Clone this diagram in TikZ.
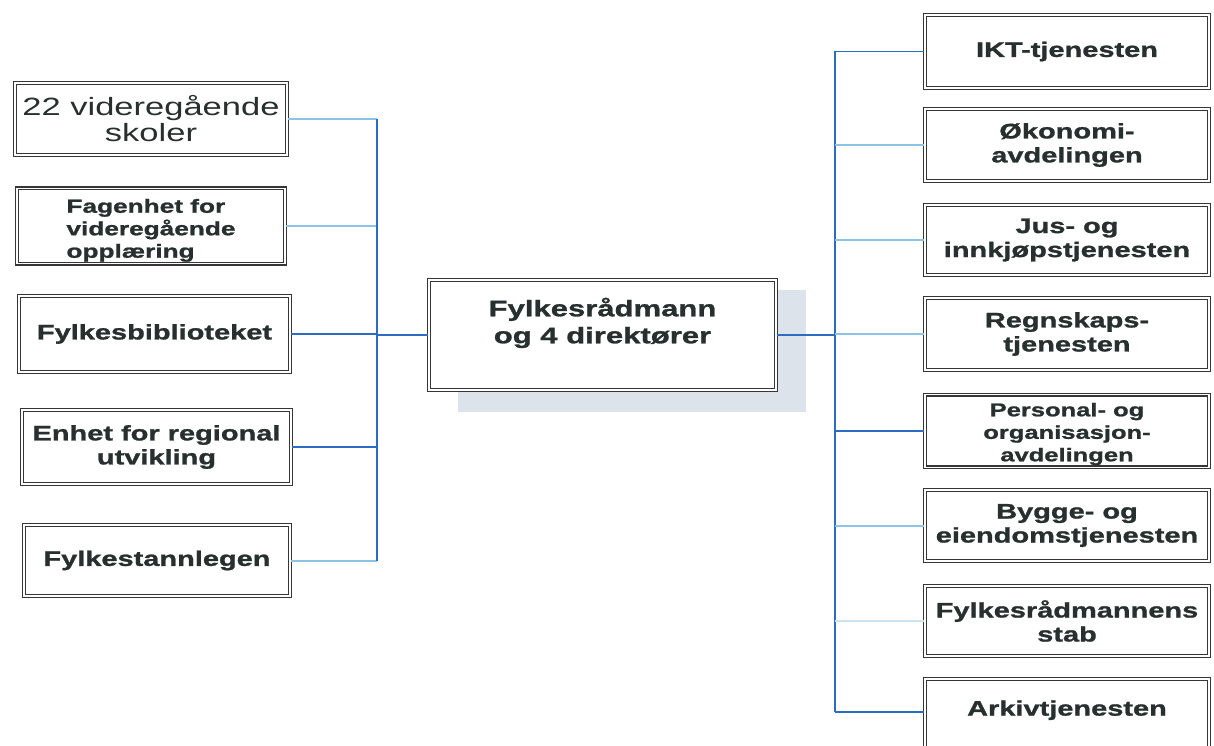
\documentclass[tikz,border=0pt]{standalone}
\usepackage{fontspec}
\setmainfont{Liberation Sans}[FakeStretch=1.38, BoldFeatures={FakeBold=1.2}]
\definecolor{boxline}{HTML}{363636}
\definecolor{txt}{HTML}{27302E}
\definecolor{lineDark}{HTML}{2D6CC0}
\definecolor{lineLight}{HTML}{8CC4E6}
\definecolor{shadowfill}{HTML}{DDE3EA}
\tikzset{
  unit/.style={draw=boxline, double=white, double distance=1.4pt, line width=1.5pt,
    fill=white, inner sep=2pt, align=center, text=txt,
    font=\bfseries\fontsize{21}{24}\selectfont},
  leftunit/.style={unit, minimum width=270pt},
  rightunit/.style={unit, minimum width=284pt},
  trunk/.style={draw=lineDark, line width=2pt},
  branch/.style={draw=lineLight, line width=2pt},
  strongbranch/.style={draw=lineDark, line width=1.8pt},
  faintbranch/.style={draw=lineLight!45, line width=1.6pt}
}
\begin{document}
\begin{tikzpicture}[x=1pt, y=-1pt]
\useasboundingbox (0,0) rectangle (1214,746);
\clip (0,0) rectangle (1214,746);

% spines of the two branch groups
\coordinate (sl) at (377,0);
\coordinate (sr) at (835,0);

% shadow behind the head box
\fill[shadowfill] (458,290) rectangle (806,412);

% head of the organisation
\node[unit, minimum width=347pt, minimum height=110pt,
      font=\bfseries\fontsize{22.5}{27}\selectfont] (C) at (602.5,335)
  {Fylkesrådmann\\og 4 direktører\\[2pt]\mbox{}};

% left-hand units
\node[leftunit, minimum width=272pt, minimum height=72pt,
      font=\fontsize{25}{26}\selectfont] (L1) at (151,119)
  {22 videregående\\skoler};
\node[leftunit, minimum width=268pt, minimum height=72pt, align=left,
      font=\bfseries\fontsize{19}{22.5}\selectfont] (L2) at (151,226)
  {\mbox{}\\[0pt]Fagenhet for\\videregående\\opplæring};
\node[leftunit, minimum width=271pt, minimum height=76pt] (L3) at (154.5,334)
  {Fylkesbiblioteket};
\node[leftunit, minimum width=269pt, minimum height=74pt] (L4) at (156.5,447)
  {Enhet for regional\\utvikling};
\node[leftunit, minimum width=266pt, minimum height=71pt] (L5) at (157,560.5)
  {Fylkestannlegen};

% right-hand units
\node[rightunit, minimum height=73pt] (R1) at (1067,51.5) {IKT-tjenesten};
\node[rightunit, minimum height=72pt] (R2) at (1067,145) {Økonomi-\\avdelingen};
\node[rightunit, minimum height=70pt] (R3) at (1067,240) {Jus- og\\innkjøpstjenesten};
\node[rightunit, minimum height=72pt] (R4) at (1067,334) {Regnskaps-\\tjenesten};
\node[rightunit, minimum height=68pt,
      font=\bfseries\fontsize{18.5}{22.5}\selectfont] (R5) at (1067,431)
  {\mbox{}\\[-3pt]Personal- og\\organisasjon-\\avdelingen};
\node[rightunit, minimum height=71pt] (R6) at (1067,525.5) {Bygge- og\\eiendomstjenesten};
\node[rightunit, minimum height=70pt] (R7) at (1067,621) {Fylkesrådmannens\\stab};
\node[rightunit, minimum height=86pt] (R8) at (1067,722)
  {Arkivtjenesten\\[4pt]\mbox{}};
\coordinate (r8) at (835,712);

% left branches
\draw[branch] (L1.east) -- (L1.east -| sl);
\draw[branch] (L2.east) -- (L2.east -| sl);
\draw[strongbranch] (L3.east) -- (L3.east -| sl);
\draw[strongbranch] (L4.east) -- (L4.east -| sl);
\draw[branch] (L5.east) -- (L5.east -| sl);
\draw[trunk] (sl |- L1.east) -- (sl |- L5.east);
\draw[trunk] (sl |- C.west) -- (C.west);

% right branches
\draw[trunk] (C.east) -- (C.east -| sr);
\draw[trunk] (sr |- R1.west) -- (r8);
\draw[strongbranch] (sr |- R1.west) -- (R1.west);
\draw[branch] (sr |- R2.west) -- (R2.west);
\draw[branch] (sr |- R3.west) -- (R3.west);
\draw[branch] (sr |- R4.west) -- (R4.west);
\draw[strongbranch] (sr |- R5.west) -- (R5.west);
\draw[branch] (sr |- R6.west) -- (R6.west);
\draw[faintbranch] (sr |- R7.west) -- (R7.west);
\draw[strongbranch] (r8) -- (r8 -| R8.west);
\end{tikzpicture}
\end{document}
